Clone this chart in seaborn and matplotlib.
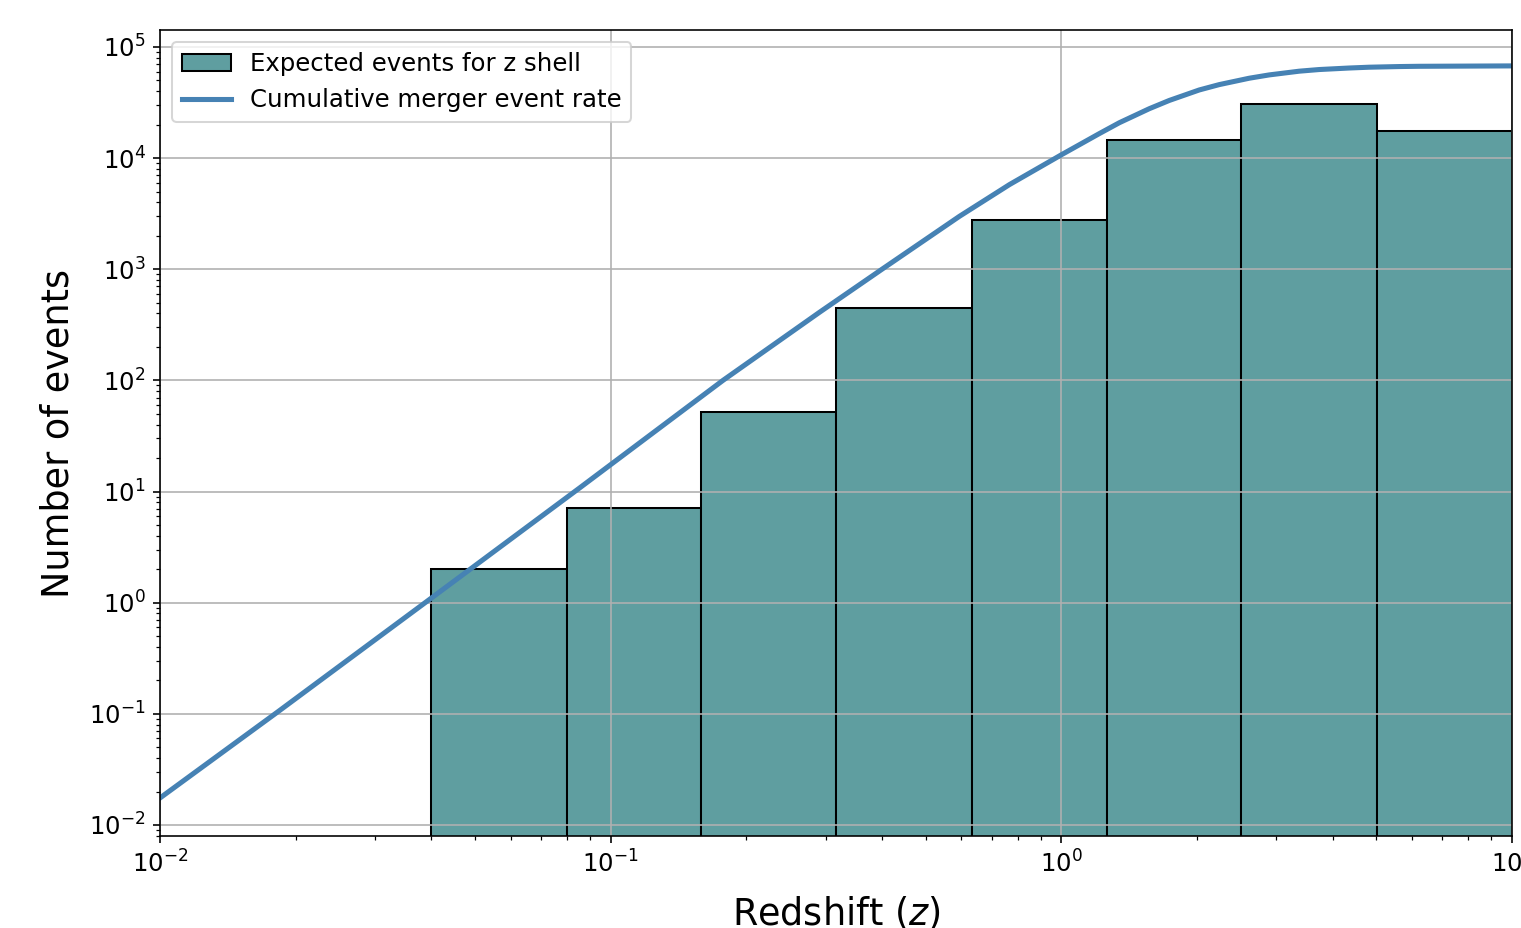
import numpy as np
import pandas as pd
import matplotlib
matplotlib.use("Agg")
import matplotlib.pyplot as plt
import seaborn as sns

# ---- data ----
bin_edges = [0.04, 0.0798, 0.159, 0.317, 0.632, 1.26, 2.51, 5.01, 10.0]
shell_events = [2.01, 7.1, 51.9, 447, 2780, 14600, 30700, 17600]

curve_z = [0.01, 0.0183, 0.04, 0.0854, 0.1775, 0.2907, 0.40, 0.594,
           0.767, 1.0, 1.214, 1.345, 1.567, 1.736, 2.023, 2.24, 2.612, 2.892,
           3.372, 3.733, 4.35, 4.82, 5.62, 6.22, 10.0]
curve_n = [0.0175, 0.105, 1.1, 10.8, 100, 410, 1000, 2990,
           5770, 10700, 16600, 20800, 27800, 33000, 41000, 45800, 52300, 56000,
           60500, 62600, 64600, 65700, 66600, 66950, 67500]

x_label = "Redshift ($z$)"
y_label = "Number of events"
hist_label = "Expected events for z shell"
line_label = "Cumulative merger event rate"

DPI = 146
fig = plt.figure(figsize=(1521 / DPI, 928 / DPI), dpi=DPI)
ax = fig.add_axes([160 / 1521, 1 - 836 / 928, (1512 - 160) / 1521, (836 - 30) / 928])
ax.set_xscale("log")
ax.set_yscale("log")

edges = np.array(bin_edges)
centers = np.sqrt(edges[:-1] * edges[1:])
df_bins = pd.DataFrame({"z": centers, "n": shell_events})
sns.histplot(data=df_bins, x="z", weights="n", bins=[float(v) for v in np.log10(edges)],
             ax=ax, color="cadetblue", alpha=1.0, edgecolor="black", linewidth=1.0,
             label=hist_label)

df_curve = pd.DataFrame({"z": curve_z, "n": curve_n})
sns.lineplot(data=df_curve, x="z", y="n", ax=ax, color="steelblue",
             linewidth=2.5, label=line_label)

ax.set_xlim(1e-2, 10)
ax.set_ylim(7.96e-3, 1.42e5)
ax.grid(True, which="major", color="#b0b0b0", linewidth=0.8)
ax.tick_params(labelsize=12)
ax.set_xlabel(x_label, fontsize=18, labelpad=9)
ax.set_ylabel(y_label, fontsize=18, labelpad=6)

handles, labels = ax.get_legend_handles_labels()
order = [labels.index(hist_label), labels.index(line_label)]
ax.legend([handles[i] for i in order], [labels[i] for i in order],
          loc="upper left", fontsize=12)

fig.savefig("out.png", dpi=DPI)
